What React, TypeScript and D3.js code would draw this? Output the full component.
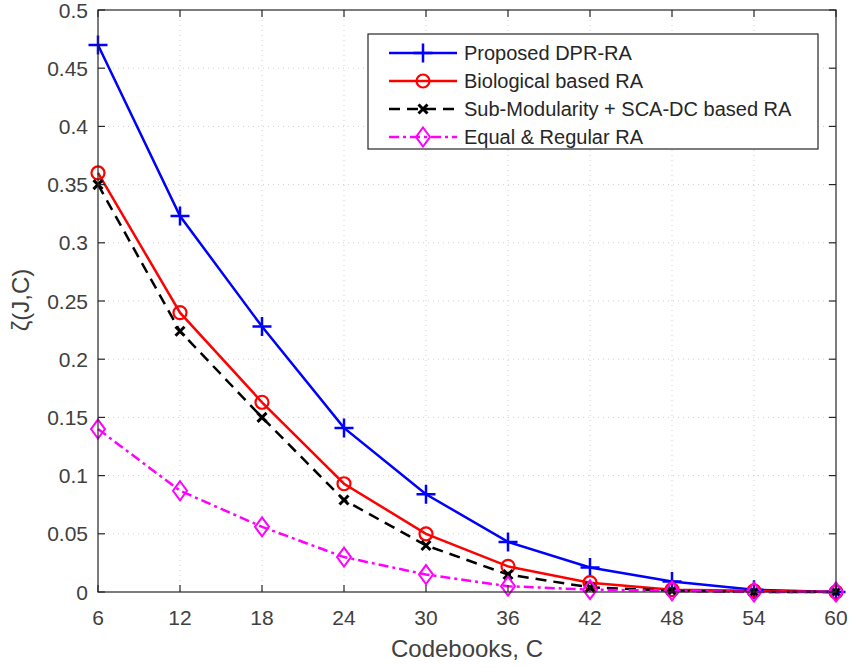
import React from "react";
import * as d3 from "d3";

const codebooks = [6, 12, 18, 24, 30, 36, 42, 48, 54, 60];
const proposed = [0.47, 0.323, 0.228, 0.141, 0.084, 0.043, 0.021, 0.009, 0.002, 0.0];
const biological = [0.36, 0.24, 0.163, 0.093, 0.05, 0.022, 0.008, 0.002, 0.001, 0.0];
const subModularity = [0.35, 0.224, 0.15, 0.079, 0.04, 0.015, 0.004, 0.001, 0.0, 0.0];
const equalRegular = [0.14, 0.087, 0.056, 0.03, 0.015, 0.005, 0.002, 0.001, 0.0, 0.0];
const yTicks = [0, 0.05, 0.1, 0.15, 0.2, 0.25, 0.3, 0.35, 0.4, 0.45, 0.5];
const yTickLabels = ["0", "0.05", "0.1", "0.15", "0.2", "0.25", "0.3", "0.35", "0.4", "0.45", "0.5"];
const legendNames = ["Proposed DPR-RA", "Biological based RA", "Sub-Modularity + SCA-DC based RA", "Equal & Regular RA"];

const W = 850, H = 668;
const L = 98, R = 836, T = 10, B = 592;
const FONT = "Liberation Sans, Arial, Helvetica, sans-serif";
const TXT = "#404040";

type Series = { name: string; values: number[]; color: string; dash: string; marker: string };

const series: Series[] = [
  { name: legendNames[0], values: proposed, color: "#0000ff", dash: "", marker: "plus" },
  { name: legendNames[1], values: biological, color: "#ff0000", dash: "", marker: "circle" },
  { name: legendNames[2], values: subModularity, color: "#000000", dash: "11,7", marker: "x" },
  { name: legendNames[3], values: equalRegular, color: "#ff00ff", dash: "10,4,3,4", marker: "diamond" },
];

function Marker({ type, x, y, color }: { type: string; x: number; y: number; color: string }) {
  if (type === "plus") {
    const s = 9.5;
    return <path d={`M${x - s},${y}H${x + s}M${x},${y - s}V${y + s}`} stroke={color} strokeWidth={2.5} fill="none" />;
  }
  if (type === "circle") {
    return <circle cx={x} cy={y} r={6.5} stroke={color} strokeWidth={2.2} fill="none" />;
  }
  if (type === "x") {
    const s = 4.5;
    return <path d={`M${x - s},${y - s}L${x + s},${y + s}M${x - s},${y + s}L${x + s},${y - s}`} stroke={color} strokeWidth={3} fill="none" />;
  }
  return <path d={`M${x},${y - 9.5}L${x + 7},${y}L${x},${y + 9.5}L${x - 7},${y}Z`} stroke={color} strokeWidth={2} fill="none" />;
}

export default function App() {
  const x = d3.scaleLinear().domain([6, 60]).range([L, R]);
  const y = d3.scaleLinear().domain([0, 0.5]).range([B, T]);
  const line = d3.line<number>().x((_, i) => x(codebooks[i])).y((d) => y(d));

  const lgX = 368, lgY = 34, lgW = 450, lgH = 115;
  const rowY = [53, 81, 109, 137];

  return (
    <svg width={W} height={H} style={{ position: "absolute", left: 0, top: 0, background: "#fff" }}>
      <rect x={0} y={0} width={W} height={H} fill="#fff" />
      {/* grid */}
      {codebooks.slice(1, -1).map((c) => (
        <line key={"gx" + c} x1={x(c)} x2={x(c)} y1={T} y2={B} stroke="#d0d0d0" strokeWidth={1} strokeDasharray="1,4" />
      ))}
      {yTicks.slice(1, -1).map((v) => (
        <line key={"gy" + v} x1={L} x2={R} y1={y(v)} y2={y(v)} stroke="#d0d0d0" strokeWidth={1} strokeDasharray="1,4" />
      ))}
      {/* series lines */}
      {series.map((s) => (
        <path key={s.name} d={line(s.values) || ""} fill="none" stroke={s.color} strokeWidth={2.5} strokeDasharray={s.dash || undefined} />
      ))}
      {series.map((s) =>
        s.values.map((v, i) => <Marker key={s.name + i} type={s.marker} x={x(codebooks[i])} y={y(v)} color={s.color} />)
      )}
      {/* axes box */}
      <rect x={L} y={T} width={R - L} height={B - T} fill="none" stroke="#262626" strokeWidth={1.2} />
      {codebooks.map((c) => (
        <g key={"tx" + c}>
          <line x1={x(c)} x2={x(c)} y1={B} y2={B - 7} stroke="#262626" strokeWidth={1.2} />
          <line x1={x(c)} x2={x(c)} y1={T} y2={T + 7} stroke="#262626" strokeWidth={1.2} />
          <text x={x(c)} y={625} textAnchor="middle" fontFamily={FONT} fontSize={21} fill={TXT}>{c}</text>
        </g>
      ))}
      {yTicks.map((v, i) => (
        <g key={"ty" + v}>
          <line x1={L} x2={L + 7} y1={y(v)} y2={y(v)} stroke="#262626" strokeWidth={1.2} />
          <line x1={R} x2={R - 7} y1={y(v)} y2={y(v)} stroke="#262626" strokeWidth={1.2} />
          <text x={L - 10} y={y(v) + 7.5} textAnchor="end" fontFamily={FONT} fontSize={21} fill={TXT}>{yTickLabels[i]}</text>
        </g>
      ))}
      {/* axis labels */}
      <text x={467} y={657} textAnchor="middle" fontFamily={FONT} fontSize={24} fill={TXT}>Codebooks, C</text>
      <text transform={`translate(29,300) rotate(-90)`} textAnchor="middle" fontFamily={FONT} fontSize={24} fill={TXT}>ζ(J,C)</text>
      {/* legend */}
      <rect x={lgX} y={lgY} width={lgW} height={lgH} fill="#fff" stroke="#262626" strokeWidth={1.2} />
      {series.map((s, i) => (
        <g key={"lg" + i}>
          <line x1={389} x2={457} y1={rowY[i]} y2={rowY[i]} stroke={s.color} strokeWidth={2.5} strokeDasharray={s.dash || undefined} />
          <Marker type={s.marker} x={423} y={rowY[i]} color={s.color} />
          <text x={464} y={rowY[i] + 7} fontFamily={FONT} fontSize={20} fill="#262626">{s.name}</text>
        </g>
      ))}
    </svg>
  );
}
